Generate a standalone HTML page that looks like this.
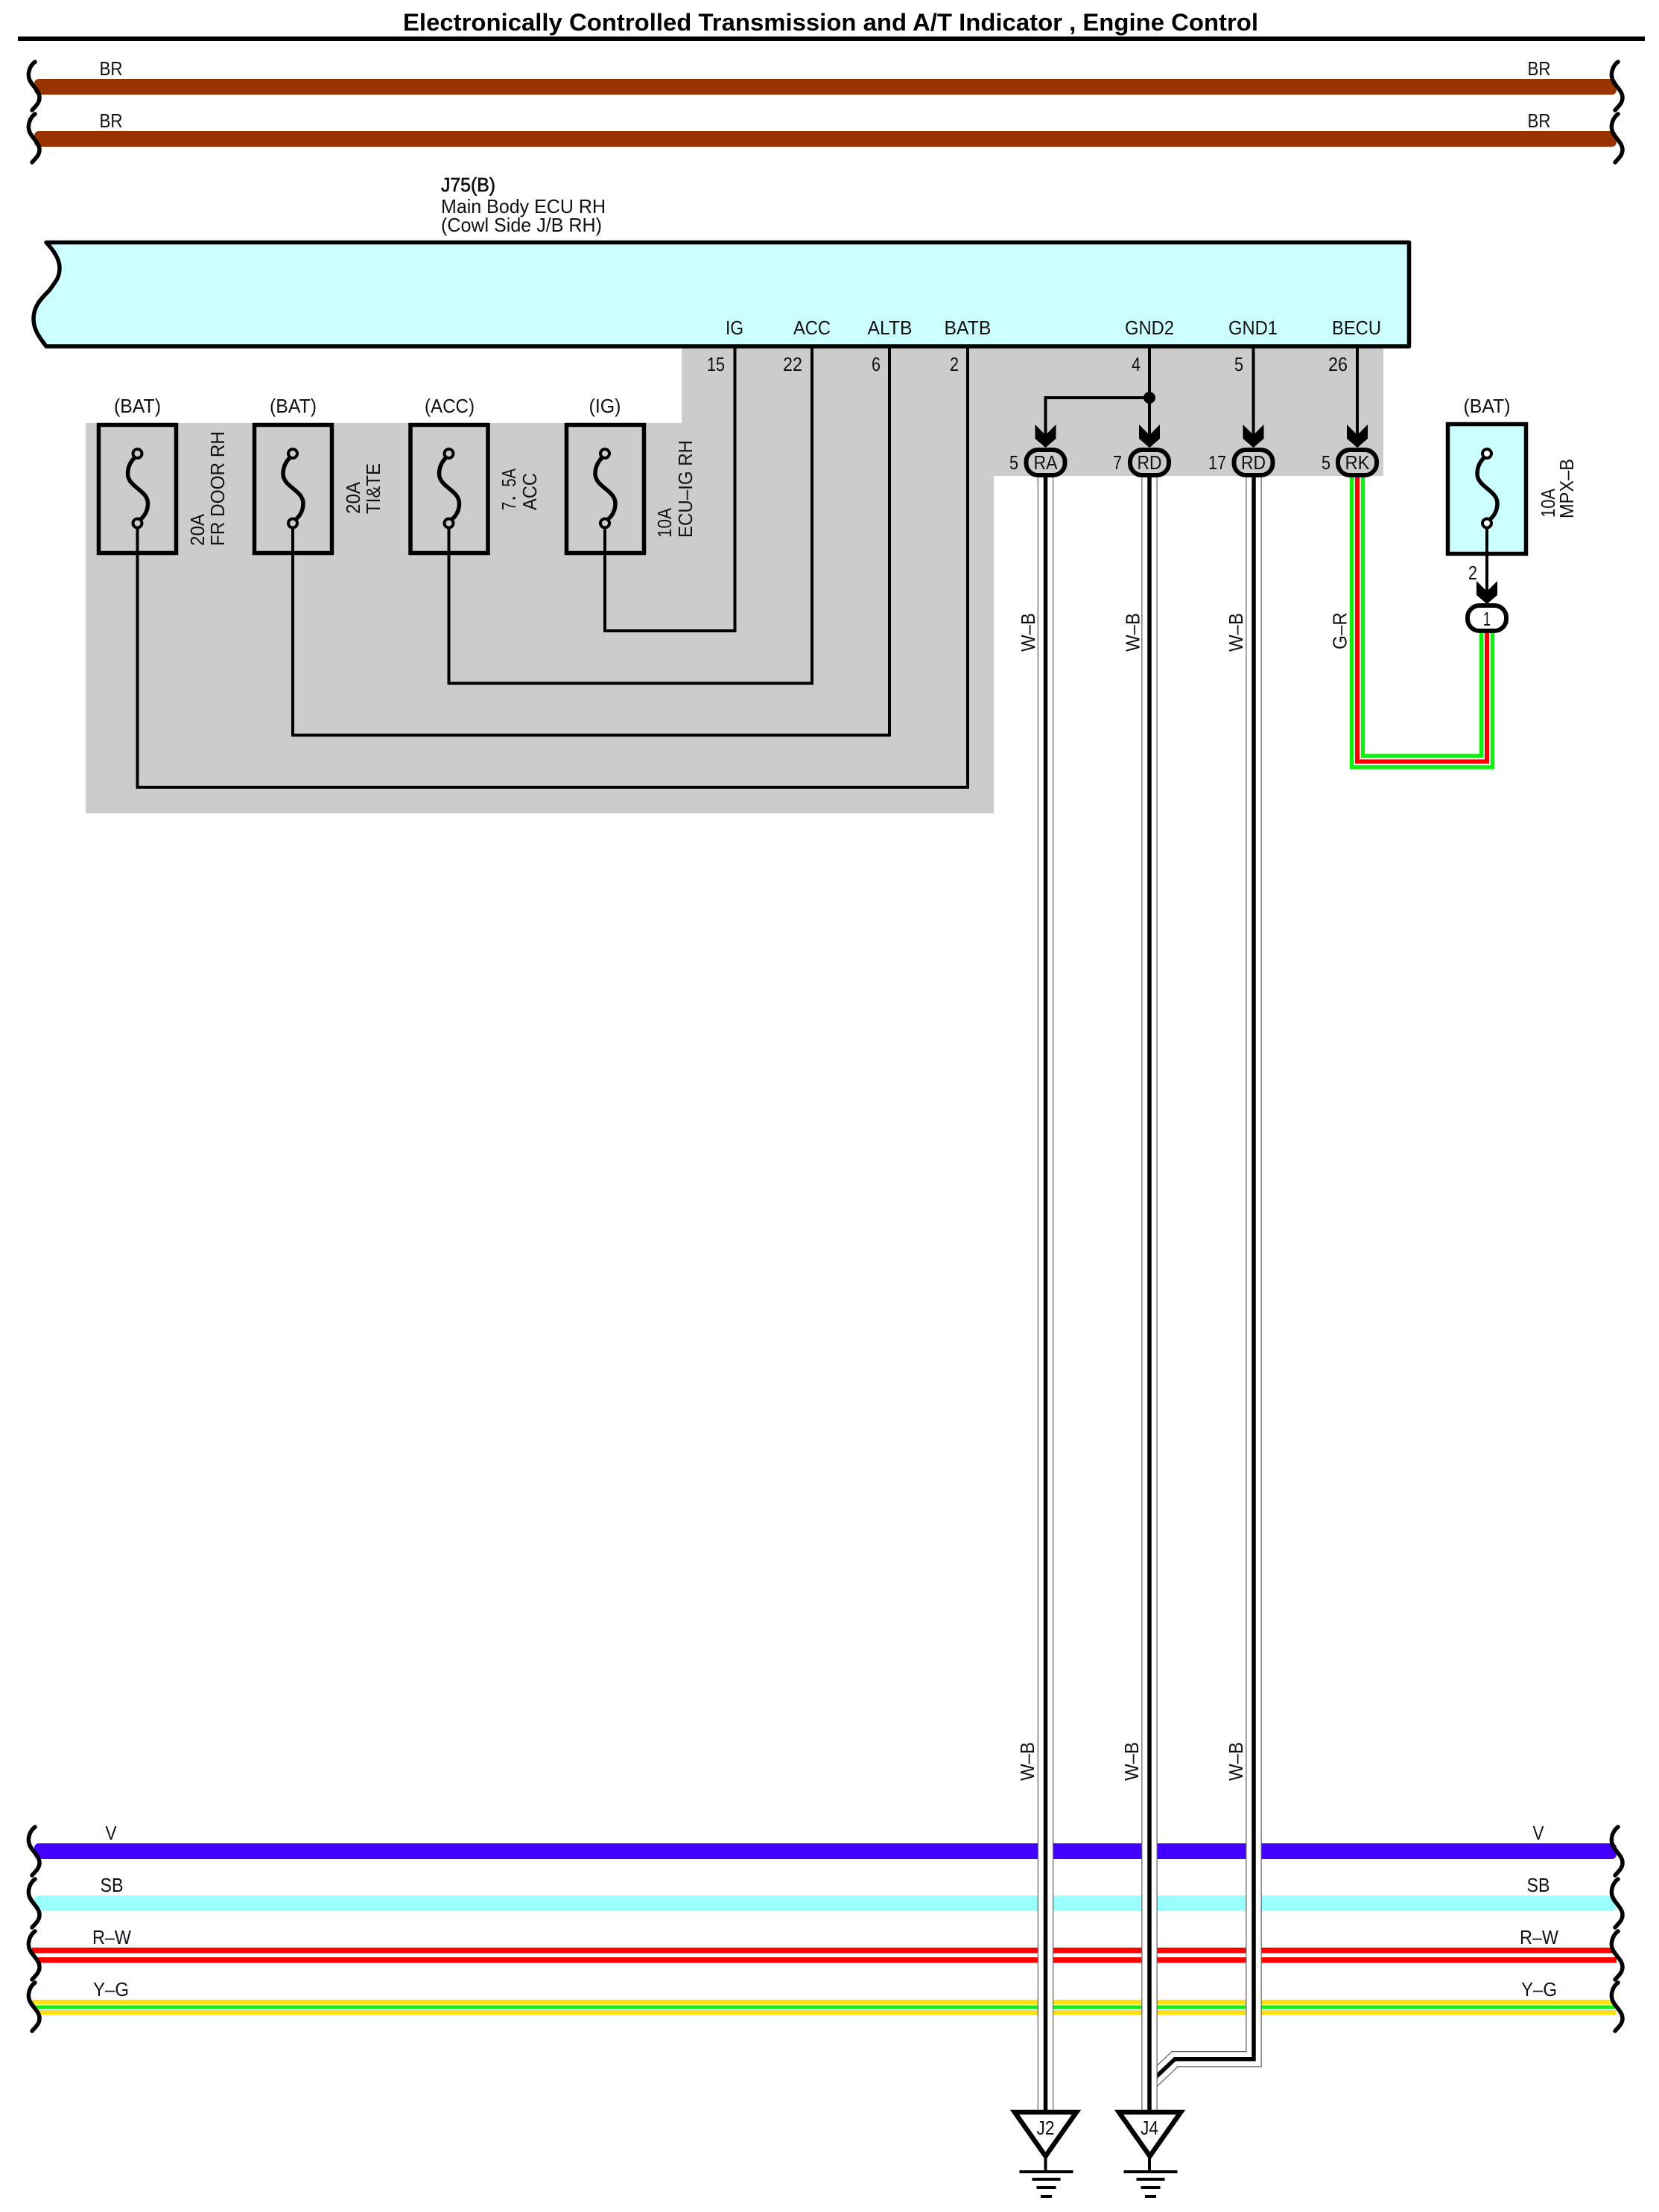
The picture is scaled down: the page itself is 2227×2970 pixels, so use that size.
<!DOCTYPE html>
<html><head><meta charset="utf-8"><style>
html,body{margin:0;padding:0;background:#fff}
svg{display:block}
text{font-family:"Liberation Sans",Arial,sans-serif;font-size:26px;fill:#111}
.m{text-anchor:middle}.e{text-anchor:end}
.w{fill:none;stroke:#000;stroke-width:4;stroke-linejoin:miter}
</style></head><body>
<svg xmlns="http://www.w3.org/2000/svg" width="2227" height="2970" viewBox="0 0 2227 2970">
<defs>
<path id="sq" d="M47 0C40 5 37 15 39 22C41 31 53 38 53 48C53 56 47 60 43 65" fill="none" stroke="#000" stroke-width="5.500" stroke-linecap="round"/>
<path id="fs" d="M4 -93C-6 -88 -13 -78 -13 -66C-13 -48 14 -44 14 -26C14 -16 9 -8 3 -4" fill="none" stroke="#000" stroke-width="5.500"/>
<path id="ar" d="M-14 -50L0 -36L14 -50V-31L0 -19L-14 -31Z" fill="#000"/>
<g id="gnd"><g fill="#000"><rect x="-36" y="0" width="72" height="4"/><rect x="-19" y="10" width="38" height="4"/><rect x="-13" y="21" width="26" height="4"/><rect x="-7.500" y="33" width="15" height="4"/></g></g>
</defs>
<rect width="2227" height="2970" fill="#fff"/>
<text x="541" y="41" style="font-size:32px;font-weight:bold;fill:#000" textLength="1148" lengthAdjust="spacingAndGlyphs">Electronically Controlled Transmission and A/T Indicator , Engine Control</text>
<rect x="24" y="49" width="2184" height="6" fill="#000"/>

<!-- top buses -->
<rect x="46" y="106" width="2124" height="21" rx="6" fill="#993300"/>
<rect x="46" y="176" width="2124" height="21" rx="6" fill="#993300"/>
<use href="#sq" y="83"/><use href="#sq" y="153"/>
<use href="#sq" x="2125" y="83"/><use href="#sq" x="2125" y="153"/>
<text x="149" y="101" class="m" textLength="31" lengthAdjust="spacingAndGlyphs">BR</text><text x="149" y="171" class="m" textLength="31" lengthAdjust="spacingAndGlyphs">BR</text>
<text x="2066" y="101" class="m" textLength="31" lengthAdjust="spacingAndGlyphs">BR</text><text x="2066" y="171" class="m" textLength="31" lengthAdjust="spacingAndGlyphs">BR</text>

<!-- gray area -->
<path d="M915 465H1857V639H1334V1092H115V568H915Z" fill="#cccccc"/>

<!-- ECU -->
<path d="M62 325.500H1891.500V465H62C52 452 45 442 45 428C45 412 54 402 66 390C75 378 80 372 80 360C80 348 72 336 62 325.500Z" fill="#ccffff" stroke="#000" stroke-width="5.500" stroke-linejoin="round"/>
<text x="592" y="257" style="stroke:#111;stroke-width:.7" textLength="73" lengthAdjust="spacingAndGlyphs">J75(B)</text>
<text x="592" y="286" textLength="221" lengthAdjust="spacingAndGlyphs">Main Body ECU RH</text>
<text x="592" y="311" textLength="216" lengthAdjust="spacingAndGlyphs">(Cowl Side J/B RH)</text>

<text x="986" y="449" class="m" textLength="24" lengthAdjust="spacingAndGlyphs">IG</text>
<text x="1090" y="449" class="m" textLength="50" lengthAdjust="spacingAndGlyphs">ACC</text>
<text x="1194.500" y="449" class="m" textLength="60" lengthAdjust="spacingAndGlyphs">ALTB</text>
<text x="1299" y="449" class="m" textLength="63" lengthAdjust="spacingAndGlyphs">BATB</text>
<text x="1543" y="449" class="m" textLength="66" lengthAdjust="spacingAndGlyphs">GND2</text>
<text x="1682" y="449" class="m" textLength="66" lengthAdjust="spacingAndGlyphs">GND1</text>
<text x="1821" y="449" class="m" textLength="66" lengthAdjust="spacingAndGlyphs">BECU</text>

<text x="973" y="498" class="e" textLength="24" lengthAdjust="spacingAndGlyphs">15</text><text x="1077" y="498" class="e" textLength="26" lengthAdjust="spacingAndGlyphs">22</text><text x="1182" y="498" class="e" textLength="12" lengthAdjust="spacingAndGlyphs">6</text><text x="1287" y="498" class="e" textLength="12" lengthAdjust="spacingAndGlyphs">2</text>
<text x="1531" y="498" class="e" textLength="12" lengthAdjust="spacingAndGlyphs">4</text><text x="1669" y="498" class="e" textLength="12" lengthAdjust="spacingAndGlyphs">5</text><text x="1809" y="498" class="e" textLength="26" lengthAdjust="spacingAndGlyphs">26</text>

<!-- fuses -->
<g fill="none" stroke="#000" stroke-width="5.500" stroke-linejoin="miter">
<rect x="132.500" y="570.500" width="104" height="172"/>
<rect x="341.500" y="570.500" width="104" height="172"/>
<rect x="551" y="570.500" width="104" height="172"/>
<rect x="760.500" y="570.500" width="104" height="172"/>
<rect x="1943.500" y="569.500" width="105" height="174" fill="#ccffff"/>
</g>
<g>
<use href="#fs" x="184.500" y="702"/><use href="#fs" x="393" y="702"/><use href="#fs" x="602.500" y="702"/><use href="#fs" x="812" y="702"/><use href="#fs" x="1996" y="702"/>
</g>
<g fill="#cccccc" stroke="#000" stroke-width="4">
<circle cx="184.500" cy="609" r="6"/><circle cx="184.500" cy="702.500" r="6"/>
<circle cx="393" cy="609" r="6"/><circle cx="393" cy="702.500" r="6"/>
<circle cx="602.500" cy="609" r="6"/><circle cx="602.500" cy="702.500" r="6"/>
<circle cx="812" cy="609" r="6"/><circle cx="812" cy="702.500" r="6"/>
<circle cx="1996" cy="609" r="6" fill="#fff"/><circle cx="1996" cy="702.500" r="6" fill="#fff"/>
</g>
<text x="184.500" y="554" class="m" textLength="63" lengthAdjust="spacingAndGlyphs">(BAT)</text><text x="393.500" y="554" class="m" textLength="63" lengthAdjust="spacingAndGlyphs">(BAT)</text><text x="603.500" y="554" class="m" textLength="67" lengthAdjust="spacingAndGlyphs">(ACC)</text><text x="812" y="554" class="m" textLength="43" lengthAdjust="spacingAndGlyphs">(IG)</text><text x="1996" y="554" class="m" textLength="63" lengthAdjust="spacingAndGlyphs">(BAT)</text>

<!-- fuse wires -->
<path class="w" d="M184.500 708.500V1057H1299V465"/>
<path class="w" d="M393 708.500V987H1194V465"/>
<path class="w" d="M602.500 708.500V917.500H1090V465"/>
<path class="w" d="M812 708.500V847H986.500V465"/>

<!-- fuse labels -->
<g>
<text transform="translate(274,733) rotate(-90)" textLength="43" lengthAdjust="spacingAndGlyphs">20A</text>
<text transform="translate(301,733) rotate(-90)" textLength="154" lengthAdjust="spacingAndGlyphs">FR DOOR RH</text>
<text transform="translate(483,690) rotate(-90)" textLength="43" lengthAdjust="spacingAndGlyphs">20A</text>
<text transform="translate(510,690) rotate(-90)" textLength="68" lengthAdjust="spacingAndGlyphs">TI&amp;TE</text>
<text transform="translate(692,685) rotate(-90)" textLength="56" lengthAdjust="spacingAndGlyphs">7．5A</text>
<text transform="translate(720,685) rotate(-90)" textLength="50" lengthAdjust="spacingAndGlyphs">ACC</text>
<text transform="translate(901,722) rotate(-90)" textLength="40" lengthAdjust="spacingAndGlyphs">10A</text>
<text transform="translate(929,722) rotate(-90)" textLength="131" lengthAdjust="spacingAndGlyphs">ECU–IG RH</text>
<text transform="translate(2087,695) rotate(-90)" textLength="39" lengthAdjust="spacingAndGlyphs">10A</text>
<text transform="translate(2112,696) rotate(-90)" textLength="80" lengthAdjust="spacingAndGlyphs">MPX–B</text>
</g>

<!-- bottom buses -->
<rect x="46" y="2475" width="2124" height="21" rx="6" fill="#4400ff"/>
<rect x="46" y="2545" width="2124" height="21" rx="6" fill="#99ffff"/>
<rect x="43" y="2615" width="2124" height="7.500" fill="#ff0000"/>
<rect x="50" y="2628" width="2120" height="7.500" fill="#ff0000"/>
<rect x="43" y="2685" width="2124" height="6.500" fill="#ffe010"/>
<rect x="47" y="2692.500" width="2121" height="5" fill="#11ee11"/>
<rect x="50" y="2699" width="2120" height="6.500" fill="#ffe010"/>
<use href="#sq" y="2453"/><use href="#sq" y="2523"/><use href="#sq" y="2593"/><use href="#sq" y="2662"/>
<use href="#sq" x="2125" y="2453"/><use href="#sq" x="2125" y="2523"/><use href="#sq" x="2125" y="2593"/><use href="#sq" x="2125" y="2662"/>
<text x="149" y="2470" class="m" textLength="15" lengthAdjust="spacingAndGlyphs">V</text><text x="150" y="2540" class="m" textLength="31" lengthAdjust="spacingAndGlyphs">SB</text><text x="150" y="2610" class="m" textLength="52" lengthAdjust="spacingAndGlyphs">R–W</text><text x="149" y="2680" class="m" textLength="48" lengthAdjust="spacingAndGlyphs">Y–G</text>
<text x="2065" y="2470" class="m" textLength="15" lengthAdjust="spacingAndGlyphs">V</text><text x="2065" y="2540" class="m" textLength="31" lengthAdjust="spacingAndGlyphs">SB</text><text x="2066" y="2610" class="m" textLength="52" lengthAdjust="spacingAndGlyphs">R–W</text><text x="2066" y="2680" class="m" textLength="48" lengthAdjust="spacingAndGlyphs">Y–G</text>

<!-- W-B wires -->
<g fill="none" stroke-linejoin="miter">
<path d="M1683 641V2764.700H1577L1543 2797" stroke="#666" stroke-width="21.500"/>
<path d="M1683 641V2764.700H1577L1543 2797" stroke="#fff" stroke-width="19"/>
<path d="M1683 641V2764.700H1577L1543 2797" stroke="#000" stroke-width="5.500"/>
<path d="M1543 641V2835" stroke="#666" stroke-width="21.500"/>
<path d="M1543 641V2835" stroke="#fff" stroke-width="19"/>
<path d="M1543 641V2835" stroke="#000" stroke-width="5.500"/>
<path d="M1403.500 641V2835" stroke="#666" stroke-width="21.500"/>
<path d="M1403.500 641V2835" stroke="#fff" stroke-width="19"/>
<path d="M1403.500 641V2835" stroke="#000" stroke-width="5.500"/>
<!-- G-R -->
<path d="M1822 641V1022.500H1996V850" stroke="#11ee11" stroke-width="20.500"/>
<path d="M1822 641V1022.500H1996V850" stroke="#fff" stroke-width="9.500"/>
<path d="M1822 641V1022.500H1996V850" stroke="#ff0000" stroke-width="6"/>
</g>
<text transform="translate(1389,875) rotate(-90)" textLength="52" lengthAdjust="spacingAndGlyphs">W–B</text>
<text transform="translate(1529.500,875) rotate(-90)" textLength="52" lengthAdjust="spacingAndGlyphs">W–B</text>
<text transform="translate(1668,875) rotate(-90)" textLength="52" lengthAdjust="spacingAndGlyphs">W–B</text>
<text transform="translate(1807.500,872) rotate(-90)" textLength="50" lengthAdjust="spacingAndGlyphs">G–R</text>
<text transform="translate(1388,2391) rotate(-90)" textLength="52" lengthAdjust="spacingAndGlyphs">W–B</text>
<text transform="translate(1528,2391) rotate(-90)" textLength="52" lengthAdjust="spacingAndGlyphs">W–B</text>
<text transform="translate(1668,2391) rotate(-90)" textLength="52" lengthAdjust="spacingAndGlyphs">W–B</text>

<!-- right wires above connectors -->
<path class="w" d="M1543 465V600"/>
<path class="w" d="M1543 534H1403.500V600"/>
<circle cx="1543" cy="534" r="8" fill="#000"/>
<path class="w" d="M1682.500 465V600"/>
<path class="w" d="M1822 465V600"/>
<path class="w" d="M1996 708V810"/>
<use href="#ar" x="1403.500" y="620"/><use href="#ar" x="1543" y="620"/><use href="#ar" x="1682.500" y="620"/><use href="#ar" x="1822" y="620"/><use href="#ar" x="1996" y="830"/>

<!-- connectors -->
<g fill="#cccccc" stroke="#000" stroke-width="6">
<rect x="1377.500" y="604" width="52" height="34" rx="16"/>
<rect x="1517" y="604" width="52" height="34" rx="16"/>
<rect x="1656.500" y="604" width="52" height="34" rx="16"/>
<rect x="1796" y="604" width="52" height="34" rx="16"/>
<rect x="1970" y="813" width="52" height="34" rx="16" fill="#fff"/>
</g>
<text x="1403.500" y="630" class="m" textLength="32" lengthAdjust="spacingAndGlyphs">RA</text><text x="1543" y="630" class="m" textLength="33" lengthAdjust="spacingAndGlyphs">RD</text><text x="1682.500" y="630" class="m" textLength="33" lengthAdjust="spacingAndGlyphs">RD</text><text x="1822" y="630" class="m" textLength="33" lengthAdjust="spacingAndGlyphs">RK</text><text x="1996" y="840" class="m" textLength="10" lengthAdjust="spacingAndGlyphs">1</text>
<text x="1367" y="630" class="e" textLength="12" lengthAdjust="spacingAndGlyphs">5</text><text x="1506" y="630" class="e" textLength="12" lengthAdjust="spacingAndGlyphs">7</text><text x="1646" y="630" class="e" textLength="24" lengthAdjust="spacingAndGlyphs">17</text><text x="1786" y="630" class="e" textLength="12" lengthAdjust="spacingAndGlyphs">5</text><text x="1983" y="778" class="e" textLength="12" lengthAdjust="spacingAndGlyphs">2</text>

<!-- grounds -->
<g fill="#fff" stroke="#000" stroke-width="6.500" stroke-linejoin="miter">
<path d="M1362 2836H1445L1403.500 2895Z"/>
<path d="M1502 2836H1585L1543.500 2895Z"/>
</g>
<text x="1403.500" y="2866" class="m" textLength="24" lengthAdjust="spacingAndGlyphs">J2</text><text x="1543" y="2866" class="m" textLength="24" lengthAdjust="spacingAndGlyphs">J4</text>
<path d="M1403.500 2895V2916M1543 2895V2916" stroke="#000" stroke-width="4"/>
<use href="#gnd" x="1404.500" y="2914"/><use href="#gnd" x="1544.500" y="2914"/>
</svg>
</body></html>
